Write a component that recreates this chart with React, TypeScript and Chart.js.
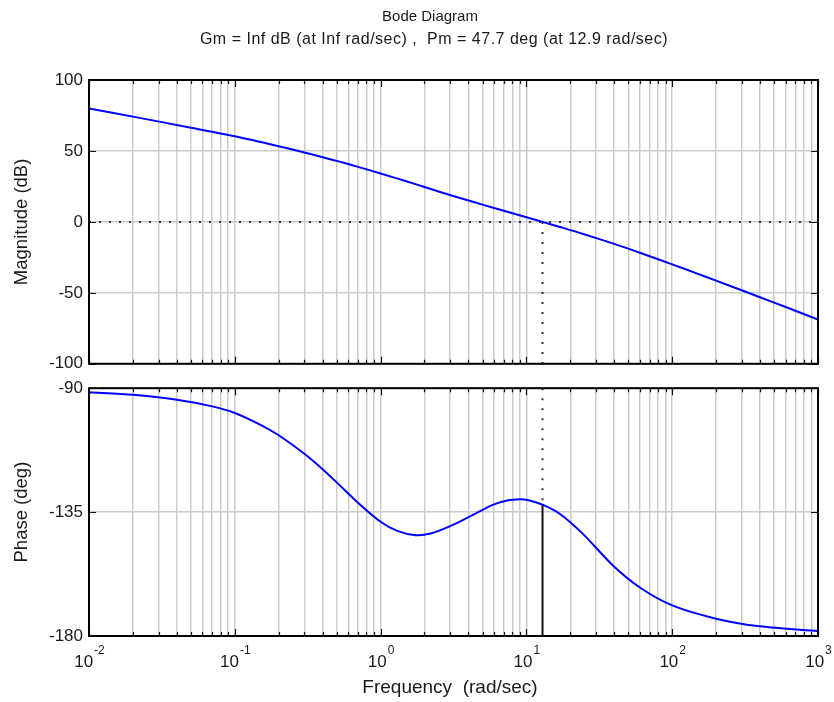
import React, { useEffect, useRef } from "react";
import { Chart, registerables } from "chart.js";

Chart.register(...registerables);

// ---------------- data ----------------
const TITLE_LINES = [
  "Bode Diagram",
  "Gm = Inf dB (at Inf rad/sec) ,  Pm = 47.7 deg (at 12.9 rad/sec)",
];
const X_LABEL = "Frequency  (rad/sec)";
const MAG_LABEL = "Magnitude (dB)";
const PHASE_LABEL = "Phase (deg)";

const FREQ_MIN = 0.01;
const FREQ_MAX = 1000;
const DECADE_EXPONENTS = [-2, -1, 0, 1, 2, 3];
const MINOR_MULTIPLIERS = [1, 2, 3, 4, 5, 6, 7, 8, 9];

const MAG_TICKS = [-100, -50, 0, 50, 100];
const PHASE_TICKS = [-180, -135, -90];

const MAG_FREQ = [0.01, 0.02, 0.05, 0.1, 0.2, 0.3, 0.4, 0.5, 0.7, 1, 1.5, 2, 2.56, 3.5, 5, 7, 10, 12.9, 17, 24.5, 40, 60, 100, 150, 200, 300, 400, 600, 1000];
const MAG_DB = [80, 74.2, 66.4, 60.3, 53.3, 48.9, 45.6, 43.0, 38.8, 34.1, 28.6, 24.6, 21.1, 16.9, 12.2, 7.8, 3.3, 0, -3.6, -8.5, -15.5, -21.7, -29.9, -36.6, -41.4, -48.2, -53.1, -60.0, -68.8];

const PHASE_FREQ = [0.01, 0.02, 0.04, 0.07, 0.1, 0.15, 0.2, 0.3, 0.4, 0.5, 0.7, 1, 1.3, 1.74, 2.2, 3, 4.33, 5.93, 7.5, 9, 10, 12.9, 17, 24.5, 39.4, 60, 100, 200, 400, 1000];
const PHASE_DEG = [-91.5, -92.4, -94.2, -96.6, -99, -103.3, -107.1, -113.8, -119.4, -124.2, -131.6, -138.5, -141.8, -143.4, -142.8, -140.1, -135.9, -132.3, -130.7, -130.3, -130.5, -132.3, -135.7, -143, -154.5, -162.4, -168.9, -173.7, -176.5, -178.2];

const CROSSOVER_FREQ = 12.9;
const PHASE_AT_CROSSOVER = -132.3;
const ZERO_DB = 0;
const PHASE_LIMIT = -180;

// ---------------- helpers ----------------
const FONT = '"Liberation Sans", Arial, Helvetica, sans-serif';
const TEXT_COLOR = "#1a1a1a";
const GRID_COLOR = "#cbcbcb";

const FREQ_TICKS: number[] = [];
DECADE_EXPONENTS.forEach((e, i) => {
  if (i === DECADE_EXPONENTS.length - 1) {
    FREQ_TICKS.push(Math.pow(10, e));
  } else {
    MINOR_MULTIPLIERS.forEach((m) => FREQ_TICKS.push(m * Math.pow(10, e)));
  }
});

const isDecade = (v: number) => Math.abs(Math.log10(v) - Math.round(Math.log10(v))) < 1e-9;

const toPoints = (xs: number[], ys: number[]) => xs.map((x, i) => ({ x, y: ys[i] }));

function drawText(
  ctx: CanvasRenderingContext2D,
  text: string,
  x: number,
  y: number,
  size: number,
  rotate = false,
  align: CanvasTextAlign = "center",
  spacing = 0
) {
  ctx.save();
  ctx.font = `${size}px ${FONT}`;
  (ctx as any).letterSpacing = `${spacing}px`;
  ctx.fillStyle = TEXT_COLOR;
  ctx.textAlign = align;
  ctx.textBaseline = "middle";
  ctx.translate(x, y);
  if (rotate) ctx.rotate(-Math.PI / 2);
  ctx.fillText(text, 0, 0);
  ctx.restore();
}

const framePlugin = {
  id: "frame",
  afterDatasetsDraw(chart: any) {
    const { ctx, chartArea, scales } = chart;
    const { left, right, top, bottom } = chartArea;
    const xs = scales.x;
    const ys = scales.y;
    ctx.save();
    ctx.strokeStyle = "#111";
    ctx.lineWidth = 1.2;
    ctx.beginPath();
    FREQ_TICKS.forEach((v) => {
      const px = Math.round(xs.getPixelForValue(v)) + 0.5;
      const len = isDecade(v) ? 7 : 4;
      ctx.moveTo(px, top);
      ctx.lineTo(px, top + len);
      ctx.moveTo(px, bottom);
      ctx.lineTo(px, bottom - len);
    });
    ys.ticks.forEach((t: any) => {
      const py = Math.round(ys.getPixelForValue(t.value)) + 0.5;
      ctx.moveTo(left, py);
      ctx.lineTo(left + 7, py);
      ctx.moveTo(right, py);
      ctx.lineTo(right - 7, py);
    });
    ctx.stroke();
    ctx.lineWidth = 2;
    ctx.strokeStyle = "#000";
    ctx.strokeRect(left, top, right - left, bottom - top);
    ctx.restore();
  },
};

const CANVAS_W = 834;
const TOP_H = 380;
const BOTTOM_TOP = 372;
const BOTTOM_H = 702 - BOTTOM_TOP;

function baseOptions(yMin: number, yMax: number, yTicks: number[], padding: any) {
  return {
    responsive: false,
    maintainAspectRatio: false,
    animation: false as const,
    layout: { padding },
    plugins: {
      legend: { display: false },
      tooltip: { enabled: false },
      title: { display: false },
    },
    scales: {
      x: {
        type: "logarithmic" as const,
        min: FREQ_MIN,
        max: FREQ_MAX,
        afterBuildTicks: (s: any) => {
          s.ticks = FREQ_TICKS.map((v) => ({ value: v }));
        },
        ticks: { display: false },
        grid: { color: GRID_COLOR, lineWidth: 1.5, drawTicks: false },
        border: { display: false },
      },
      y: {
        type: "linear" as const,
        min: yMin,
        max: yMax,
        afterBuildTicks: (s: any) => {
          s.ticks = yTicks.map((v) => ({ value: v }));
        },
        afterFit: (s: any) => {
          s.width = 89;
        },
        ticks: { font: { family: FONT, size: 17 }, color: TEXT_COLOR, padding: 6 },
        grid: { color: GRID_COLOR, lineWidth: 1.5, drawTicks: false },
        border: { display: false },
      },
    },
  };
}

const dotted = {
  borderColor: "#333",
  borderWidth: 2,
  borderDash: [2, 8],
  pointRadius: 0,
  order: 2,
};

const curveStyle = {
  borderColor: "#0000ff",
  borderWidth: 2,
  pointRadius: 0,
  tension: 0.3,
  order: 0,
};

export default function App() {
  const topRef = useRef<HTMLCanvasElement>(null);
  const bottomRef = useRef<HTMLCanvasElement>(null);

  useEffect(() => {
    if (!topRef.current || !bottomRef.current) return;

    const topText = {
      id: "topText",
      afterDraw(chart: any) {
        const ctx = chart.ctx;
        drawText(ctx, TITLE_LINES[0], 430, 17, 15);
        drawText(ctx, TITLE_LINES[1], 434, 40, 16, false, "center", 0.5);
        drawText(ctx, MAG_LABEL, 22, (chart.chartArea.top + chart.chartArea.bottom) / 2, 18.5, true);
      },
    };

    const bottomText = {
      id: "bottomText",
      afterDraw(chart: any) {
        const ctx = chart.ctx;
        const xs = chart.scales.x;
        drawText(ctx, PHASE_LABEL, 22, (chart.chartArea.top + chart.chartArea.bottom) / 2, 18.5, true);
        DECADE_EXPONENTS.forEach((e) => {
          const px = xs.getPixelForValue(Math.pow(10, e));
          ctx.save();
          ctx.font = `17px ${FONT}`;
          const wBase = ctx.measureText("10").width;
          ctx.font = `12px ${FONT}`;
          const wExp = ctx.measureText(String(e)).width;
          ctx.restore();
          const start = px - (wBase + wExp) / 2;
          const baseY = chart.chartArea.bottom + 26;
          drawText(ctx, "10", start, baseY, 17, false, "left");
          drawText(ctx, String(e), start + wBase + 1, baseY - 11, 12, false, "left");
        });
        drawText(ctx, X_LABEL, 450, chart.chartArea.bottom + 52, 19);
      },
    };

    const topChart = new Chart(topRef.current, {
      type: "line",
      data: {
        datasets: [
          { ...curveStyle, data: toPoints(MAG_FREQ, MAG_DB) },
          { ...dotted, data: [{ x: FREQ_MIN, y: ZERO_DB }, { x: FREQ_MAX, y: ZERO_DB }] },
          { ...dotted, data: [{ x: CROSSOVER_FREQ, y: ZERO_DB }, { x: CROSSOVER_FREQ, y: MAG_TICKS[0] }] },
        ],
      },
      options: baseOptions(-100, 100, MAG_TICKS, { left: 0, right: 16, top: 80, bottom: TOP_H - 364 }) as any,
      plugins: [framePlugin, topText],
    });

    const bottomChart = new Chart(bottomRef.current, {
      type: "line",
      data: {
        datasets: [
          { ...curveStyle, data: toPoints(PHASE_FREQ, PHASE_DEG) },
          { ...dotted, data: [{ x: CROSSOVER_FREQ, y: PHASE_TICKS[2] }, { x: CROSSOVER_FREQ, y: PHASE_AT_CROSSOVER }] },
          {
            data: [{ x: CROSSOVER_FREQ, y: PHASE_AT_CROSSOVER }, { x: CROSSOVER_FREQ, y: PHASE_LIMIT }],
            borderColor: "#111",
            borderWidth: 2,
            pointRadius: 0,
            order: 1,
          },
          { ...dotted, data: [{ x: FREQ_MIN, y: PHASE_LIMIT }, { x: FREQ_MAX, y: PHASE_LIMIT }] },
        ],
      },
      options: baseOptions(-180, -90, PHASE_TICKS, { left: 0, right: 16, top: 386 - BOTTOM_TOP, bottom: 702 - 636 }) as any,
      plugins: [framePlugin, bottomText],
    });

    return () => {
      topChart.destroy();
      bottomChart.destroy();
    };
  }, []);

  return (
    <div style={{ position: "absolute", left: 0, top: 0, width: CANVAS_W, height: 702, background: "#fff" }}>
      <canvas
        ref={topRef}
        width={CANVAS_W}
        height={TOP_H}
        style={{ position: "absolute", left: 0, top: 0, width: CANVAS_W, height: TOP_H }}
      />
      <canvas
        ref={bottomRef}
        width={CANVAS_W}
        height={BOTTOM_H}
        style={{ position: "absolute", left: 0, top: BOTTOM_TOP, width: CANVAS_W, height: BOTTOM_H }}
      />
    </div>
  );
}
